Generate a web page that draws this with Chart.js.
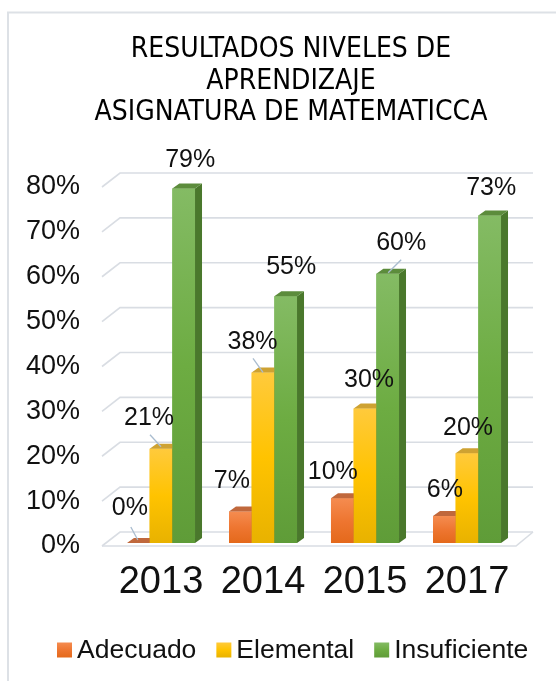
<!DOCTYPE html>
<html>
<head>
<meta charset="utf-8">
<script src="https://cdn.jsdelivr.net/npm/chart.js@4.4.1/dist/chart.umd.min.js"></script>
<style>
  html, body { margin: 0; padding: 0; background: #fff; }
  #wrap { width: 556px; height: 681px; }
</style>
</head>
<body>
<div id="wrap"><canvas id="myChart" width="556" height="681"></canvas></div>
<script>
const years = ['2013', '2014', '2015', '2017']
const adecuado = [0, 0.07, 0.10, 0.06]
const elemental = [0.21, 0.38, 0.30, 0.20]
const insuficiente = [0.79, 0.55, 0.60, 0.73]

// where each value label sits, relative to the top of its bar
const shiftAdecuado = [[-8.5, -35], [-8.5, -30], [-9.5, -26], [0.5, -26]]
const shiftElemental = [[-12, -31], [-10.5, -30.5], [4, -28], [1, -25]]
const shiftInsuficiente = [[6.5, -28.5], [5.5, -29], [13.5, -31], [1.5, -27]]
// leader lines: dataset-index -> [x1, y1, x2, y2] relative to the bar top
const leaders = {
  '0-0': [-7.5, -16, -0.5, -3],
  '1-0': [-11, -14, 0, -2],
  '1-1': [-10, -14, 0, 0],
  '2-2': [13.5, -14, 0.5, -1]
}

const DX = 7, DY = 5
const FONT = '"Liberation Sans", Arial, sans-serif'
const pct = v => Math.round(v * 100) + '%'

const gradient = (c2d, stops, top, bottom) => {
  const g = c2d.createLinearGradient(0, top, 0, bottom)
  stops.forEach((col, i) => g.addColorStop(i / (stops.length - 1), col))
  return g
}

const shade = (solid, stops) => c => {
  const chart = c.chart
  const s = chart.scales && chart.scales.y
  if (c.type !== 'data' || !s || !chart.chartArea) return solid
  const top = s.getPixelForValue(c.parsed.y)
  const base = s.getPixelForValue(0)
  if (!isFinite(top) || !isFinite(base) || base - top < 1) return solid
  return gradient(chart.ctx, stops, top, base)
}

const series = [
  { label: 'Adecuado', data: adecuado, solid: '#ed7d31', stops: ['#f58c50', '#ee7631', '#e4691b'], top: '#c0683c', side: '#b85a26', shift: shiftAdecuado },
  { label: 'Elemental', data: elemental, solid: '#ffc000', stops: ['#ffca3c', '#ffc300', '#e8b200'], top: '#cea232', side: '#b88d00', shift: shiftElemental },
  { label: 'Insuficiente', data: insuficiente, solid: '#70ad47', stops: ['#84bb64', '#6dac42', '#5f9c38'], top: '#5c8c3c', side: '#4a782c', shift: shiftInsuficiente }
]

// light frame round the chart
const frame = {
  id: 'frame',
  beforeDraw(chart) {
    const ctx = chart.ctx
    ctx.save()
    ctx.fillStyle = '#fff'
    ctx.fillRect(0, 0, chart.width, chart.height)
    ctx.strokeStyle = '#dde1e6'
    ctx.lineWidth = 2
    ctx.beginPath()
    ctx.moveTo(8, chart.height + 5)
    ctx.lineTo(8, 12.5)
    ctx.lineTo(chart.width + 5, 12.5)
    ctx.stroke()
    ctx.restore()
  }
}

// back wall gridlines and floor, drawn in perspective
const wall = {
  id: 'wall',
  beforeDatasetsDraw(chart) {
    const { ctx, chartArea } = chart
    const s = chart.scales.y
    const left = chartArea.left - 8, backLeft = chartArea.left + 10, right = chartArea.right + 15
    ctx.save()
    ctx.strokeStyle = '#d9dde3'
    ctx.lineWidth = 1.6
    s.ticks.forEach(t => {
      const y = s.getPixelForValue(t.value)
      ctx.beginPath()
      ctx.moveTo(left, y + 3)
      ctx.lineTo(backLeft, y - 11)
      ctx.lineTo(right, y - 11)
      ctx.stroke()
    })
    const y0 = s.getPixelForValue(0)
    ctx.beginPath()
    ctx.moveTo(left, y0 + 3)
    ctx.lineTo(chartArea.right - 2, y0 + 3)
    ctx.lineTo(right, y0 - 11)
    ctx.stroke()
    ctx.restore()
  }
}

// redraw the bars left to right, each with its top and side faces
const depth = {
  id: 'depth',
  afterDatasetsDraw(chart) {
    const ctx = chart.ctx
    ctx.save()
    chart.data.datasets.forEach((ds, di) => {
      const sr = series[di]
      chart.getDatasetMeta(di).data.forEach(el => {
        el.draw(ctx, chart.chartArea)
        const { x, y, base, width } = el.getProps(['x', 'y', 'base', 'width'], true)
        const l = x - width / 2, r = x + width / 2
        ctx.fillStyle = sr.side
        ctx.beginPath()
        ctx.moveTo(r, y); ctx.lineTo(r + DX, y - DY); ctx.lineTo(r + DX, base - DY); ctx.lineTo(r, base)
        ctx.closePath(); ctx.fill()
        ctx.fillStyle = sr.top
        ctx.beginPath()
        ctx.moveTo(l, y); ctx.lineTo(r, y); ctx.lineTo(r + DX, y - DY); ctx.lineTo(l + DX, y - DY)
        ctx.closePath(); ctx.fill()
      })
    })
    ctx.restore()
  }
}

// value labels and their leader lines
const values = {
  id: 'values',
  afterDraw(chart) {
    const ctx = chart.ctx
    ctx.save()
    ctx.font = '25px ' + FONT
    ctx.textAlign = 'center'
    ctx.textBaseline = 'middle'
    chart.data.datasets.forEach((ds, di) => {
      chart.getDatasetMeta(di).data.forEach((el, i) => {
        const { x, y } = el.getProps(['x', 'y'], true)
        const ln = leaders[di + '-' + i]
        if (ln) {
          ctx.strokeStyle = '#a9bccf'
          ctx.lineWidth = 1.3
          ctx.beginPath()
          ctx.moveTo(x + ln[0], y + ln[1])
          ctx.lineTo(x + ln[2], y + ln[3])
          ctx.stroke()
        }
        const sh = series[di].shift[i]
        ctx.fillStyle = '#111'
        ctx.fillText(pct(ds.data[i]), x + sh[0], y + sh[1])
      })
    })
    ctx.restore()
  }
}

// legend row under the axis
const key = {
  id: 'key',
  afterDraw(chart) {
    const ctx = chart.ctx
    const cy = 650, box = 15
    ctx.save()
    ctx.font = '26.5px ' + FONT
    ctx.textBaseline = 'middle'
    ctx.textAlign = 'left'
    let x = 57
    series.forEach(s => {
      ctx.fillStyle = gradient(ctx, s.stops, cy - box / 2, cy + box / 2)
      ctx.fillRect(x, cy - box / 2, box, box)
      ctx.fillStyle = '#111'
      ctx.fillText(s.label, x + box + 5, cy + 1)
      x += box + 5 + ctx.measureText(s.label).width + 20
    })
    ctx.restore()
  }
}

const ctx = document.getElementById('myChart')
new Chart(ctx, {
  type: 'bar',
  data: {
    labels: years,
    datasets: series.map(s => ({
      label: s.label,
      data: s.data,
      backgroundColor: shade(s.solid, s.stops),
      borderWidth: 0,
      categoryPercentage: 0.667,
      barPercentage: 1
    }))
  },
  options: {
    responsive: false,
    animation: false,
    layout: { padding: { top: 0, bottom: 58, left: 26, right: 0 } },
    scales: {
      x: {
        grid: { display: false, drawTicks: false },
        border: { display: false },
        ticks: { color: '#111', padding: 17, font: { family: FONT, size: 38 } },
        afterFit: sc => { sc.height = 80 }
      },
      y: {
        min: 0,
        max: 0.8,
        grid: { display: false, drawTicks: false },
        border: { display: false },
        ticks: {
          stepSize: 0.1,
          color: '#111',
          padding: 30,
          labelOffset: 3,
          font: { family: FONT, size: 27 },
          callback: v => pct(v)
        },
        afterFit: sc => { sc.width = 84 }
      },
      // empty strip on the right of the plot
      edge: {
        type: 'linear',
        position: 'right',
        grid: { display: false, drawTicks: false },
        border: { display: false },
        ticks: { display: false },
        afterFit: sc => { sc.width = 38 }
      }
    },
    plugins: {
      title: {
        display: true,
        text: ['RESULTADOS NIVELES DE', 'APRENDIZAJE', 'ASIGNATURA DE MATEMATICCA'],
        color: '#000',
        font: { family: '"DejaVu Sans Condensed", "Liberation Sans Narrow", sans-serif', size: 28, weight: 'normal', lineHeight: 1.125 },
        padding: { top: 34, bottom: 55.5 }
      },
      legend: { display: false },
      tooltip: { enabled: false }
    }
  },
  plugins: [frame, wall, depth, values, key]
})
</script>
</body>
</html>
